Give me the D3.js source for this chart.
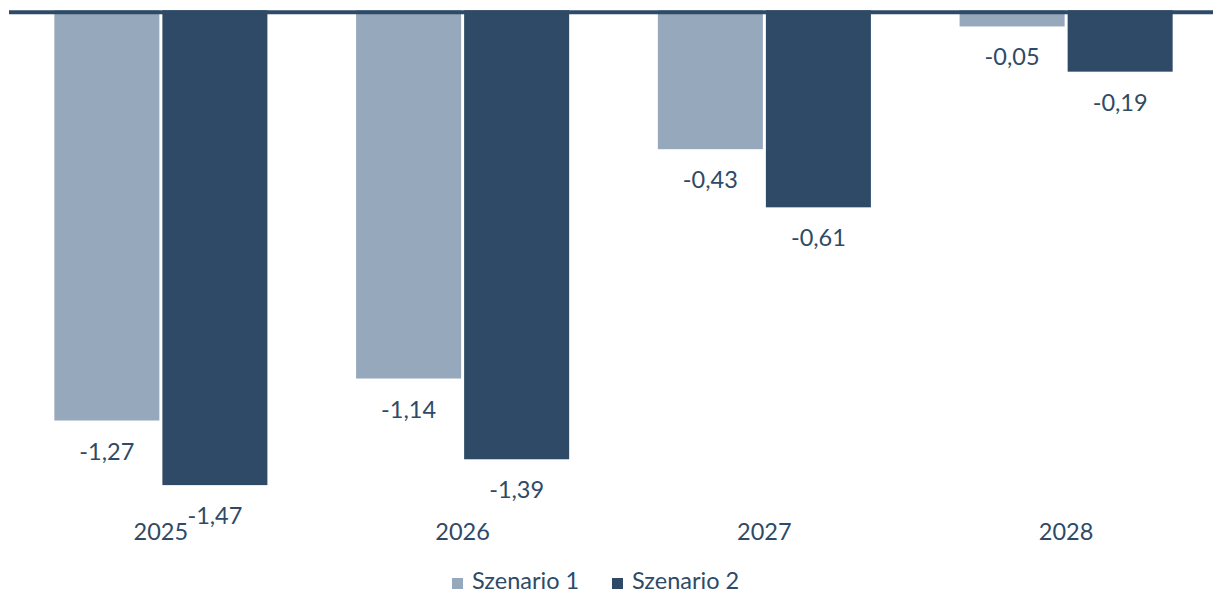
<!DOCTYPE html>
<html>
<head>
<meta charset="utf-8">
<script src="https://cdn.jsdelivr.net/npm/d3@7"></script>
<style>
  body { margin: 0; background: #fff; }
  svg { display: block; font-family: Lato, "Open Sans", sans-serif; }
</style>
</head>
<body>
<svg id="chart" width="1213" height="592"></svg>
<script>
// data
const years = ['2025', '2026', '2027', '2028'];
const series = ['Szenario 1', 'Szenario 2'];
const scen1 = [-1.27, -1.14, -0.43, -0.05];
const scen2 = [-1.47, -1.39, -0.61, -0.19];
const colors = ['#95a8bc', '#2e4a66'];
const textColor = '#2e4a66';

const svg = d3.select('#chart');

let x0 = d3.scaleBand()
	.domain(years)
	.range([10, 1217])
	.paddingInner(0.294)
	.paddingOuter(0.147);

let x1 = d3.scaleBand()
	.domain(series)
	.range([0, x0.bandwidth()])
	.paddingInner(0.028);

let y = d3.scaleLinear()
	.domain([0, -1.5])
	.range([10.3, 10.3 + 1.5 * 323]);

let rows = years.map((yr, i) => ({
	year: yr,
	vals: [
		{ s: series[0], v: scen1[i], c: colors[0] },
		{ s: series[1], v: scen2[i], c: colors[1] }
	]
}));

let g = svg.selectAll('g.group')
	.data(rows)
	.enter()
	.append('g')
	.attr('class', 'group')
	.attr('transform', d => 'translate(' + x0(d.year) + ',0)');

g.selectAll('rect')
	.data(d => d.vals)
	.enter()
	.append('rect')
	.attr('x', d => x1(d.s))
	.attr('y', y(0))
	.attr('width', x1.bandwidth())
	.attr('height', d => y(d.v) - y(0))
	.attr('fill', d => d.c);

// value labels
g.selectAll('text.val')
	.data(d => d.vals)
	.enter()
	.append('text')
	.attr('class', 'val')
	.attr('x', d => x1(d.s) + x1.bandwidth() / 2)
	.attr('y', d => y(d.v) + 39)
	.attr('text-anchor', 'middle')
	.attr('fill', textColor)
	.style('font-size', '23.5px')
	.text(d => d3.format('.2f')(d.v).replace('.', ',').replace('−', '-'));

// zero line
svg.append('line')
	.attr('x1', 9)
	.attr('x2', 1213)
	.attr('y1', 12.2)
	.attr('y2', 12.2)
	.attr('stroke', '#2e4a66')
	.attr('stroke-width', 4);

// category labels
svg.selectAll('text.cat')
	.data(years)
	.enter()
	.append('text')
	.attr('class', 'cat')
	.attr('x', d => x0(d) + x0.bandwidth() / 2)
	.attr('y', 540)
	.attr('text-anchor', 'middle')
	.attr('fill', textColor)
	.style('font-size', '23.5px')
	.text(d => d);

// legend
let legX = [452, 612];
let leg = svg.selectAll('g.leg')
	.data(series)
	.enter()
	.append('g')
	.attr('class', 'leg')
	.attr('transform', (d, i) => 'translate(' + legX[i] + ',578)');

leg.append('rect')
	.attr('width', 11)
	.attr('height', 11)
	.attr('fill', (d, i) => colors[i]);

leg.append('text')
	.attr('x', 20)
	.attr('y', 10.5)
	.attr('fill', textColor)
	.style('font-size', '23.5px')
	.text(d => d);
</script>
</body>
</html>
